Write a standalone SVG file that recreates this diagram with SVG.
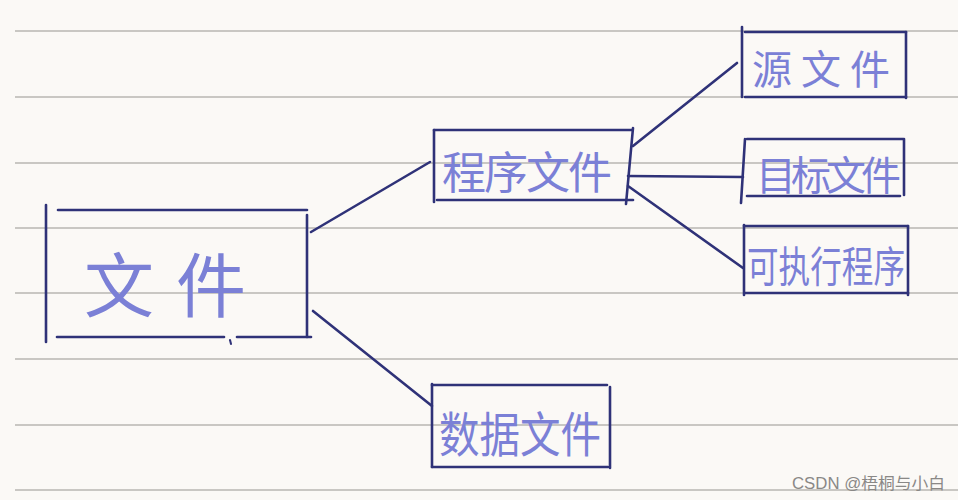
<svg xmlns="http://www.w3.org/2000/svg" width="958" height="500" viewBox="0 0 958 500">
<style>
.rule{stroke:#c9c7c3;stroke-width:2}
.ink{stroke:#2f3278;stroke-width:2.6;stroke-linecap:round;fill:none}
.lbl{font-family:"Noto Sans CJK SC","Noto Sans CJK JP",sans-serif;fill:#7b80d6}
.wm{font-family:"Liberation Sans","Noto Sans CJK SC",sans-serif;fill:#8a8886;font-size:16px}
</style>
<rect x="0" y="0" width="958" height="500" fill="#fbf9f6"/>
<g id="ruled-lines">
<line class="rule" x1="15" y1="31" x2="958" y2="31"/>
<line class="rule" x1="15" y1="97" x2="958" y2="97"/>
<line class="rule" x1="15" y1="163" x2="958" y2="163"/>
<line class="rule" x1="15" y1="228" x2="958" y2="228"/>
<line class="rule" x1="15" y1="293" x2="958" y2="293"/>
<line class="rule" x1="15" y1="359" x2="958" y2="359"/>
<line class="rule" x1="15" y1="425" x2="958" y2="425"/>
<line class="rule" x1="15" y1="490" x2="958" y2="490"/>
</g>
<g id="connectors">
<line class="ink" x1="311" y1="232" x2="430" y2="162"/>
<line class="ink" x1="313" y1="311" x2="432" y2="406"/>
<line class="ink" x1="633" y1="146" x2="737" y2="63"/>
<line class="ink" x1="628" y1="176" x2="743" y2="177"/>
<line class="ink" x1="628" y1="186" x2="743" y2="268"/>
</g>
<g id="node-wenjian">
<line class="ink" x1="46" y1="205" x2="46" y2="342"/>
<line class="ink" x1="58" y1="210" x2="307" y2="210"/>
<line class="ink" x1="307" y1="215" x2="307" y2="337"/>
<line class="ink" x1="57" y1="337" x2="224" y2="337"/>
<line class="ink" x1="237" y1="337" x2="311" y2="337"/>
<line class="ink" x1="230" y1="340" x2="231" y2="344" style="stroke-width:2"/>
<text class="lbl" font-size="70" y="312"><tspan x="84">文</tspan><tspan x="176">件</tspan></text>
</g>
<g id="node-chengxu">
<line class="ink" x1="434" y1="130" x2="434" y2="202"/>
<line class="ink" x1="434" y1="130" x2="632" y2="130"/>
<line class="ink" x1="633" y1="128" x2="626" y2="204"/>
<line class="ink" x1="437" y1="200" x2="633" y2="200"/>
<text class="lbl" font-size="44" x="442" y="189" textLength="170" lengthAdjust="spacing">程序文件</text>
</g>
<g id="node-yuan">
<line class="ink" x1="742" y1="27" x2="742" y2="97"/>
<line class="ink" x1="745" y1="32" x2="906" y2="32"/>
<line class="ink" x1="906" y1="32" x2="906" y2="98"/>
<line class="ink" x1="745" y1="97" x2="906" y2="97"/>
<text class="lbl" font-size="40" x="752" y="84" textLength="138" lengthAdjust="spacing">源文件</text>
</g>
<g id="node-mubiao">
<line class="ink" x1="745" y1="139" x2="741" y2="203"/>
<line class="ink" x1="747" y1="139" x2="903" y2="139"/>
<line class="ink" x1="904" y1="139" x2="904" y2="195"/>
<line class="ink" x1="747" y1="196" x2="900" y2="196"/>
<text class="lbl" font-size="40" x="756" y="190" textLength="145" lengthAdjust="spacing">目标文件</text>
</g>
<g id="node-kezhixing">
<line class="ink" x1="744" y1="225" x2="744" y2="295"/>
<line class="ink" x1="744" y1="226" x2="908" y2="226"/>
<line class="ink" x1="908" y1="226" x2="908" y2="295"/>
<line class="ink" x1="745" y1="293" x2="908" y2="293"/>
<text class="lbl" font-size="42" x="747" y="282" textLength="158" lengthAdjust="spacingAndGlyphs">可执行程序</text>
</g>
<g id="node-shuju">
<line class="ink" x1="432" y1="384" x2="432" y2="467"/>
<line class="ink" x1="432" y1="385" x2="607" y2="385"/>
<line class="ink" x1="610" y1="387" x2="610" y2="468"/>
<line class="ink" x1="432" y1="467" x2="608" y2="467"/>
<text class="lbl" font-size="48" x="439" y="452" textLength="162" lengthAdjust="spacingAndGlyphs">数据文件</text>
</g>
<text class="wm" x="792" y="489" textLength="153" lengthAdjust="spacingAndGlyphs">CSDN @梧桐与小白</text>
</svg>
